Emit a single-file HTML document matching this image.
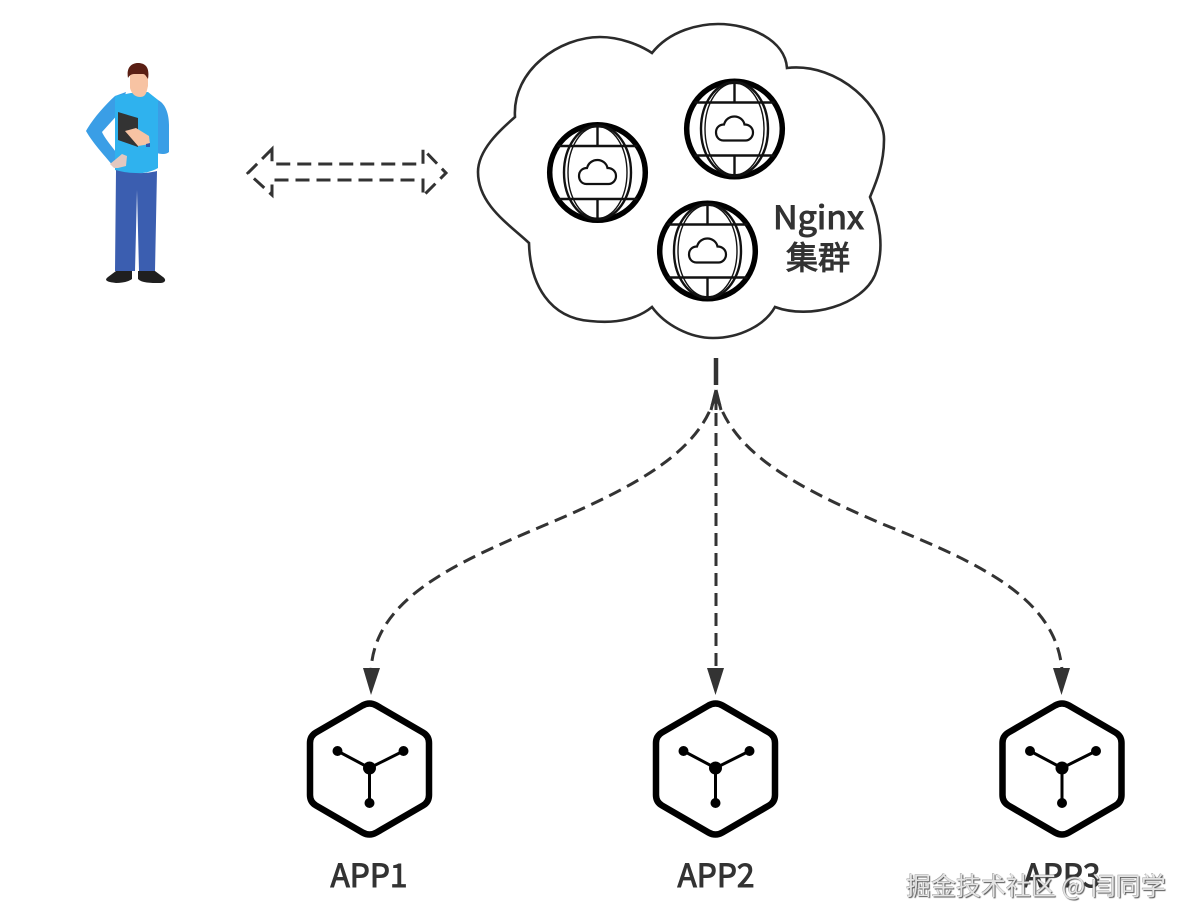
<!DOCTYPE html>
<html><head><meta charset="utf-8">
<style>
html,body{margin:0;padding:0;background:#fff;width:1190px;height:924px;overflow:hidden}
svg{position:absolute;left:0;top:0}
text{font-family:"Liberation Sans","Noto Sans CJK SC",sans-serif;fill:#333}
.t{font-family:"Noto Sans CJK SC","Liberation Sans",sans-serif;font-weight:400;stroke:#333;stroke-width:1px}
#wm{position:absolute;left:906px;top:868px;font:25px/34px "Noto Sans CJK SC","Liberation Sans",sans-serif;color:#e4e4e4;white-space:nowrap;text-shadow:1px 1px 1px #555,-.5px -.5px 0 #999;width:262px}
</style></head><body>
<svg width="1190" height="924" viewBox="0 0 1190 924">
<defs>
<g id="globe">
<circle r="47.800" fill="#fff" stroke="#000" stroke-width="5.500"/>
<ellipse rx="33.500" ry="47" fill="none" stroke="#111" stroke-width="2.400"/>
<ellipse rx="29.500" ry="46" fill="none" stroke="#111" stroke-width="1.400"/>
<path d="M-40-26.500H40M-40 26.500H40M0-47V-26.500M0 26.500V47" stroke="#111" stroke-width="2.400" fill="none"/>
<path d="M-11 11.500C-17 11.500-18.500 6-18.500 3.500C-18.500-1.500-15-4.500-10.500-4.500C-9-10-4.500-12.500 0-12.500C4.500-12.500 9-9.500 10-4.500C15-4.500 18.500-1 18.500 3.500C18.500 8 15 11.500 11 11.500Z" fill="#fff" stroke="#111" stroke-width="2.200"/>
</g>
<g id="hex">
<path d="M-7-63.500Q0-67.500 7-63.500L53.500-36.500Q59.500-33 59.500-26V26Q59.500 33 53.500 36.500L7 63.500Q0 67.500-7 63.500L-53.500 36.500Q-59.500 33-59.500 26V-26Q-59.500-33-53.500-36.500Z" fill="#fff" stroke="#000" stroke-width="6.500" transform="translate(0,1)"/>
<path d="M0 0L-32-17M0 0L34-17M0 0V35" stroke="#000" stroke-width="3" fill="none"/>
<circle r="6.500"/><circle cx="-32" cy="-17" r="5"/><circle cx="34" cy="-17" r="5"/><circle cy="35" r="5"/>
</g>
</defs>

<!-- person -->
<path d="M126 92L115 96C104 106 92 120 86 131C94 145 107 158 113 166L122 160C114 149 105 139 102 132L120 112Z" fill="#3a9ee6"/>
<path d="M150 94L158 100C166 104 169 115 169 125L169 152C165 156 155 154 145 147L150 130Z" fill="#3a9ee6"/>
<path d="M131 93L148 92L158 100L158 168C146 175 128 175 115 170L115 96Z" fill="#2fb2ee"/>
<path d="M130 72L148 72L148 86L147 90C146 95 144 97 140 97C134 97 131 92 130 88Z" fill="#f7c3a3"/>
<path d="M128 78C126 67 132 63 138 63C145 63 150 67 148 79C146 76 145 74 143 74L134 74C131 74 129 76 128 78Z" fill="#5a1f14"/>
<path d="M116 170C128 174 146 174 157 171L155 271H139L137 190L135 271H115Z" fill="#3b5eb0"/>
<path d="M116 283C106 282 104 280 108 277L116 271H132L132 279C128 282 122 283 116 283Z" fill="#1f1f1f"/>
<path d="M160 283C150 283 142 283 138 279L138 271H155L163 277C167 280 165 283 160 283Z" fill="#1f1f1f"/>
<path d="M118 112L138 118L138 147L118 140Z" fill="#333"/>
<path d="M125 131L136 128L149 136L150 144L138 146Z" fill="#f7c3a3"/>
<path d="M146 144L150 143L150 147L146 147Z" fill="#2c5ab0"/>
<path d="M110 164L122 154L127 156L126 166L118 168L114 168Z" fill="#e2c8c0"/>

<!-- double arrow -->
<path d="M272 149L248 173L272 195V180H423V196L446 173L423 149V164H272Z" fill="none" stroke="#333" stroke-width="3" stroke-dasharray="14 7"/>

<!-- cloud -->
<path d="M652 53C670 30 700 24 718 24C750 24 785 40 787 68C840 62 885 110 884 140C884 165 875 185 870 197C880 220 885 250 875 275C862 305 810 320 775 307C765 325 740 338 713 338C690 338 665 325 652 307C630 325 600 322 590 321C550 318 530 285 529 243C510 225 478 205 478 172C478 150 500 130 515 117C512 70 560 37 600 37C620 37 640 45 652 53Z" fill="#fff" stroke="#2b2b2b" stroke-width="2.600"/>
<use href="#globe" x="597.500" y="172.500"/>
<use href="#globe" x="734.500" y="129"/>
<use href="#globe" x="707.500" y="251"/>
<text class="t" x="773" y="229" font-size="32" textLength="91" lengthAdjust="spacingAndGlyphs">Nginx</text>
<text class="t" x="818" y="269" font-size="32" text-anchor="middle">集群</text>

<!-- connectors -->
<path d="M716 358V385" stroke="#333" stroke-width="4.500" fill="none"/>
<g fill="none" stroke="#333" stroke-width="3" stroke-dasharray="13 7">
<path d="M716 393C702 450 640 485 545 525C450 565 375 600 371 670"/>
<path d="M716 393V670"/>
<path d="M716 393C730 450 790 485 885 525C985 565 1056 600 1062 670"/>
</g>
<path d="M716 390L711 410M716 390V410M716 390L721 410" stroke="#333" stroke-width="3" fill="none"/>
<path d="M363 668H380L371 695Z M707 668H724L715.500 695Z M1053 668H1070L1061.500 695Z" fill="#333"/>

<use href="#hex" x="369.500" y="768"/>
<use href="#hex" x="715.500" y="768"/>
<use href="#hex" x="1062" y="768"/>

<text class="t" x="369" y="887" font-size="32" text-anchor="middle" textLength="77" lengthAdjust="spacingAndGlyphs">APP1</text>
<text class="t" x="716" y="887" font-size="32" text-anchor="middle" textLength="77" lengthAdjust="spacingAndGlyphs">APP2</text>
<text class="t" x="1062" y="887" font-size="32" text-anchor="middle" textLength="77" lengthAdjust="spacingAndGlyphs">APP3</text>
</svg>
<div id="wm">掘金技术社区 @ 闫同学</div>
</body></html>
